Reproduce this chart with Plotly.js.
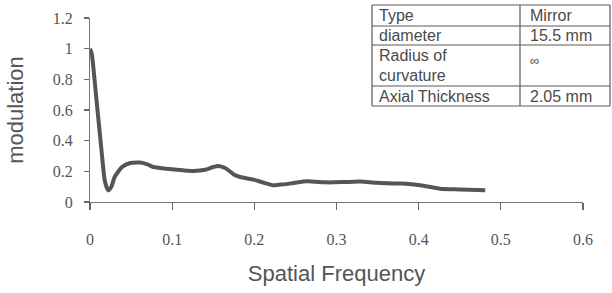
<!DOCTYPE html>
<html>
<head>
<meta charset="utf-8">
<script src="https://cdn.plot.ly/plotly-3.0.1.min.js"></script>
<style>
  html, body { margin: 0; padding: 0; background: #fff; }
  #chart { width: 612px; height: 293px; }
</style>
</head>
<body>
<div id="chart"></div>
<script>
// Spatial frequency (x) and modulation (y)
const frequency = [0, 0.002, 0.008, 0.014, 0.018, 0.022, 0.026, 0.030, 0.039, 0.049, 0.061, 0.070, 0.077, 0.085, 0.100, 0.115, 0.126, 0.140, 0.150, 0.156, 0.165, 0.175, 0.183, 0.199, 0.212, 0.223, 0.235, 0.248, 0.264, 0.288, 0.310, 0.329, 0.349, 0.378, 0.402, 0.426, 0.450, 0.481];
const modulation = [1.0, 0.97, 0.66, 0.337, 0.14, 0.076, 0.10, 0.163, 0.228, 0.254, 0.257, 0.245, 0.228, 0.222, 0.213, 0.205, 0.202, 0.21, 0.228, 0.235, 0.22, 0.18, 0.163, 0.146, 0.125, 0.109, 0.115, 0.124, 0.135, 0.128, 0.13, 0.133, 0.125, 0.12, 0.109, 0.087, 0.082, 0.076];

const xTicks = [0, 0.1, 0.2, 0.3, 0.4, 0.5, 0.6];
const yTicks = [0, 0.2, 0.4, 0.6, 0.8, 1, 1.2];

// Inset table
const tableLabels = ["Type", "diameter", "Radius of", "curvature", "Axial Thickness"];
const tableValues = ["Mirror", "15.5 mm", "\u221E", "", "2.05 mm"];

const W = 612, H = 293;
const M = {l: 90, r: 29, t: 18, b: 91};
const plotW = W - M.l - M.r, plotH = H - M.t - M.b;
// convert figure pixels to plot-area paper coordinates
const px = v => (v - M.l) / plotW, py = v => (H - M.b - v) / plotH;

const ink = "#4a4a4a";
const shapes = [];
const lineStyle = {color: "#5a5a5a", width: 1.2};
const tL = 372, tR = 610, tMid = 520;
const rows = [5, 26, 45, 86, 106];
rows.forEach(y => shapes.push({type: "line", xref: "paper", yref: "paper", x0: px(tL), x1: px(tR), y0: py(y), y1: py(y), line: lineStyle}));
[tL, tMid, tR].forEach(x => shapes.push({type: "line", xref: "paper", yref: "paper", x0: px(x), x1: px(x), y0: py(rows[0]), y1: py(rows[rows.length - 1]), line: lineStyle}));

const labelY = [15.5, 35.5, 55, 75, 96];
const valueY = [15.5, 35.5, 60, 75, 96];
const annotations = [];
tableLabels.forEach((t, i) => annotations.push({
  text: t, xref: "paper", yref: "paper", x: px(377), y: py(labelY[i]),
  xanchor: "left", yanchor: "middle", showarrow: false,
  font: {family: "Liberation Sans, Arial, sans-serif", size: 16, color: ink}
}));
tableValues.forEach((t, i) => { if (t) annotations.push({
  text: t, xref: "paper", yref: "paper", x: px(528), y: py(valueY[i]),
  xanchor: "left", yanchor: "middle", showarrow: false,
  font: {family: "Liberation Sans, Arial, sans-serif", size: t === "\u221E" ? 13 : 16, color: ink}
}); });

const trace = {
  x: frequency, y: modulation, type: "scatter", mode: "lines",
  line: {color: "#555555", width: 4, shape: "spline", smoothing: 0.6},
  hoverinfo: "skip"
};

const tickFont = {family: "Liberation Serif, Times New Roman, serif", size: 16, color: "#555"};
const titleFont = {family: "Liberation Sans, Arial, sans-serif", size: 22, color: "#555"};

const layout = {
  width: W, height: H,
  margin: {l: M.l, r: M.r, t: M.t, b: M.b, pad: 0},
  paper_bgcolor: "#fff", plot_bgcolor: "#fff",
  showlegend: false,
  xaxis: {
    range: [0, 0.6], tickvals: xTicks, ticktext: xTicks.map(String),
    showgrid: false, zeroline: false, showline: true, linecolor: "#777", linewidth: 1,
    ticks: "outside", ticklen: 7, tickcolor: "#666", tickwidth: 1.2,
    ticklabelstandoff: 16, tickfont: tickFont,
    title: {text: "Spatial Frequency", font: titleFont, standoff: 18}
  },
  yaxis: {
    range: [0, 1.2], tickvals: yTicks, ticktext: yTicks.map(String),
    showgrid: false, zeroline: false, showline: true, linecolor: "#777", linewidth: 1,
    ticks: "outside", ticklen: 5, tickcolor: "#666", tickwidth: 1.2,
    ticklabelstandoff: 8, tickfont: tickFont,
    title: {text: "modulation", font: titleFont, standoff: 23}
  },
  shapes: shapes,
  annotations: annotations
};

Plotly.newPlot("chart", [trace], layout, {displayModeBar: false, staticPlot: true});
</script>
</body>
</html>
